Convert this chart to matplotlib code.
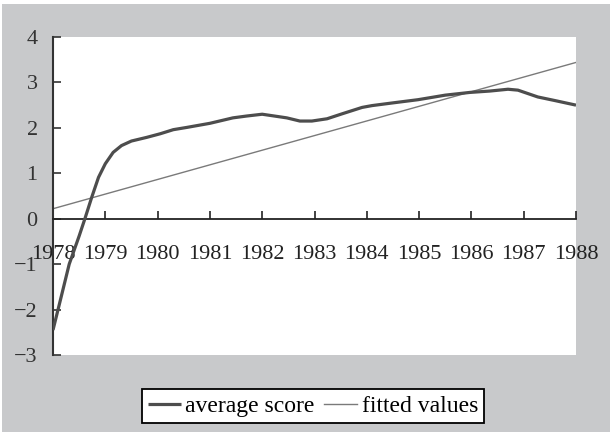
import matplotlib
matplotlib.use("Agg")
import matplotlib.pyplot as plt
from matplotlib.patches import Rectangle

# average score
score_years = [1978.00, 1978.15, 1978.31, 1978.50, 1978.61, 1978.74, 1978.87, 1979.00,
               1979.15, 1979.31, 1979.50, 1979.79, 1980.05, 1980.30, 1980.56, 1981.00,
               1981.44, 1981.70, 1982.00, 1982.47, 1982.72, 1982.95, 1983.24, 1983.53,
               1983.91, 1984.10, 1984.50, 1984.98, 1985.50, 1985.97, 1986.35, 1986.70,
               1986.89, 1987.27, 1987.60, 1988.00]
score_values = [-2.45, -1.75, -1.00, -0.38, 0.00, 0.47, 0.91, 1.21,
                1.46, 1.61, 1.71, 1.79, 1.87, 1.96, 2.01, 2.10,
                2.22, 2.26, 2.30, 2.22, 2.15, 2.15, 2.20, 2.31,
                2.45, 2.49, 2.55, 2.62, 2.72, 2.78, 2.81, 2.85,
                2.83, 2.68, 2.60, 2.50]

# fitted values (straight line, end points)
fit_years = [1978, 1988]
fit_values = [0.22, 3.44]

year_ticks = list(range(1978, 1989))
y_ticks = [-3, -2, -1, 0, 1, 2, 3, 4]

W, H = 610, 433
plt.rcParams["font.family"] = ["Liberation Serif", "DejaVu Serif"]

fig = plt.figure(figsize=(W / 100, H / 100), dpi=100)
fig.patch.set_facecolor("white")
fig.patches.append(Rectangle((2 / W, 1 / H), (W - 2) / W, (H - 5) / H,
                             transform=fig.transFigure, facecolor="#c8c9cb",
                             edgecolor="none", zorder=-10))

ax = fig.add_axes([53 / W, 1 - 355 / H, (576 - 53) / W, (355 - 37) / H])
ax.set_facecolor("white")

ax.plot(score_years, score_values, color="#4d4d4d", lw=2.3,
        solid_capstyle="butt", solid_joinstyle="round",
        label="average score", zorder=3)
ax.plot(fit_years, fit_values, color="#7a7a7a", lw=1.0,
        label="fitted values", zorder=2)

ax.set_xlim(1978, 1988)
ax.set_ylim(-3, 4)
ax.spines["top"].set_visible(False)
ax.spines["right"].set_visible(False)
ax.spines["bottom"].set_position(("data", 0))
ax.spines["bottom"].set_color("#222222")
ax.spines["left"].set_color("#333333")
ax.spines["bottom"].set_linewidth(1.3)
ax.spines["left"].set_linewidth(1.5)

ax.set_xticks(year_ticks)
ax.set_xticklabels([str(y) for y in year_ticks])
ax.set_yticks(y_ticks)
ax.set_yticklabels([str(v).replace("-", "\u2212") for v in y_ticks])
ax.tick_params(axis="x", direction="in", length=6, width=1.2, pad=19,
               labelsize=16, colors="#222222")
ax.tick_params(axis="y", direction="in", length=6, width=1.2, pad=11,
               labelsize=16, colors="#333333")
for lbl in ax.get_xticklabels() + ax.get_yticklabels():
    lbl.set_zorder(5)

leg = fig.legend(loc="center", bbox_to_anchor=(313 / W, 1 - 406 / H), ncol=2,
                 fontsize=17, frameon=True, fancybox=False, framealpha=1,
                 edgecolor="black", handlelength=1.4, handletextpad=0.2,
                 columnspacing=0.4, borderpad=0.25)
leg.get_frame().set_linewidth(1.3)

fig.savefig("out.png", dpi=100)
